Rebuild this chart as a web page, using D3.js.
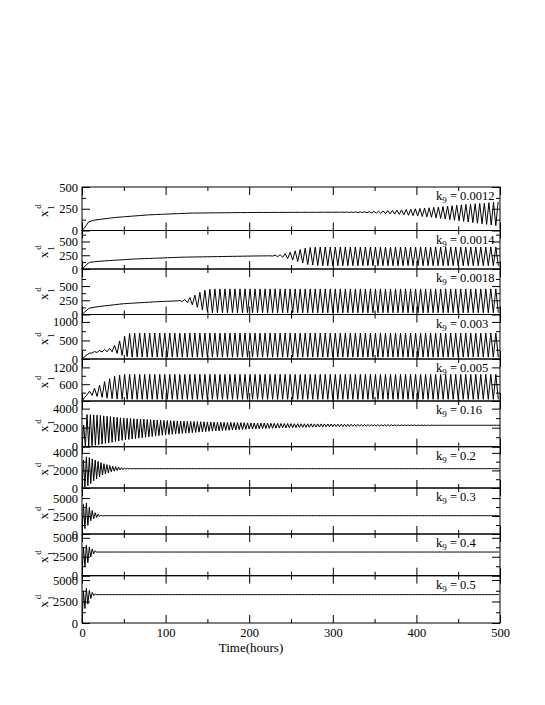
<!DOCTYPE html>
<html>
<head>
<meta charset="utf-8">
<script src="https://cdnjs.cloudflare.com/ajax/libs/d3/7.8.5/d3.min.js"></script>
<style>
body { margin: 0; background: #fff; }
svg text { font-family: "Liberation Serif", "Times New Roman", serif; }
</style>
</head>
<body>
<div class="d3chart"></div>
<script>
var width = 545,
    height = 705;

// k9 value of every panel, top to bottom
var kLabels = ["0.0012", "0.0014", "0.0018", "0.003", "0.005", "0.16", "0.2", "0.3", "0.4", "0.5"];

// y axis of every panel
var yMaxes = [500, 700, 800, 1200, 1500, 4800, 4700, 6400, 5500, 5500];
var yMajor = [
    [0, 250, 500], [0, 250, 500], [0, 250, 500], [0, 500, 1000], [0, 600, 1200],
    [0, 2000, 4000], [0, 2000, 4000], [0, 2500, 5000], [0, 2500, 5000], [0, 2500, 5000]
];
var yMinor = [
    [125, 375], [125, 375, 625], [125, 375, 625], [250, 750], [300, 900],
    [1000, 3000], [1000, 3000], [1250, 3750], [1250, 3750], [1250, 3750]
];

var xMajor = [0, 100, 200, 300, 400, 500];
var xMinor = [50, 150, 250, 350, 450];

// oscillation period (hours)
var periods = [5.5, 6, 6, 6, 6, 4, 3.5, 3.5, 3.5, 3.5];

// x1^d envelope: [time, low, high]
var env0012 = [[0,0,0],[3,30,30],[8,100,100],[15,120,120],[40,150,150],[80,180,180],[130,200,200],[200,207,207],[300,210,210],[340,205,215],[380,185,235],[420,150,265],[460,100,300],[500,50,330]];
var env0014 = [[0,0,0],[3,40,40],[8,120,120],[20,140,140],[60,180,180],[120,215,215],[200,235,235],[225,240,240],[240,215,265],[255,150,330],[270,80,390],[285,60,400],[500,60,400]];
var env0018 = [[0,0,0],[3,40,40],[8,110,110],[20,140,140],[50,190,190],[90,225,225],[115,240,240],[125,215,270],[135,150,340],[145,70,420],[155,30,450],[500,30,450]];
var env003 = [[0,0,0],[3,60,60],[8,150,150],[15,170,200],[25,190,250],[35,200,300],[42,150,420],[50,80,600],[58,50,700],[500,50,700]];
var env005 = [[0,0,0],[3,120,120],[6,220,300],[12,200,400],[20,150,550],[30,100,750],[40,70,900],[50,60,950],[500,60,950]];
var env016 = [[0,0,0],[3,0,3400],[20,200,3300],[50,700,3000],[100,1250,2750],[150,1600,2600],[200,1850,2500],[250,2000,2420],[300,2100,2380],[350,2170,2320],[400,2220,2280],[450,2250,2250],[500,2250,2250]];
var env02 = [[0,0,0],[2,0,3600],[8,300,3500],[15,900,3200],[25,1500,2800],[35,1850,2500],[45,2050,2350],[55,2150,2250],[65,2200,2200],[500,2200,2200]];
var env03 = [[0,0,0],[2,600,4700],[6,1000,4200],[10,1800,3500],[15,2200,3000],[20,2400,2700],[26,2550,2550],[500,2550,2550]];
var env04 = [[0,0,0],[2,1000,4300],[6,1500,4000],[10,2400,3700],[14,2900,3400],[18,3100,3150],[22,3120,3120],[500,3120,3120]];
var env05 = [[0,0,0],[2,1500,4200],[6,2000,4000],[10,2800,3700],[14,3200,3450],[18,3300,3300],[500,3300,3300]];

var envelopes = [env0012, env0014, env0018, env003, env005, env016, env02, env03, env04, env05];

// layout
var left = 82, right = 500;
var edges = [187, 230.5, 269, 314.5, 359, 401, 446.7, 488, 534, 575.7, 623];
var serif = "Liberation Serif, Times New Roman, serif";

var svg = d3.select(".d3chart").append("svg")
    .attr("width", width)
    .attr("height", height);

svg.append("rect").attr("width", width).attr("height", height).attr("fill", "#fff");

var x = d3.scaleLinear().domain([0, 500]).range([left, right]);

// turn an envelope into the up/down trace, one turn every half period
function trace(env, period) {
    var ts = env.map(function(d) { return d[0]; });
    var lo = d3.scaleLinear().domain(ts).range(env.map(function(d) { return d[1]; })).clamp(true);
    var hi = d3.scaleLinear().domain(ts).range(env.map(function(d) { return d[2]; })).clamp(true);
    var pts = [];
    var step = period / 2;
    for (var i = 0; i * step <= 500; i++) {
        var t = i * step;
        pts.push([t, i % 2 === 1 ? hi(t) : lo(t)]);
    }
    return pts;
}

function styleAxis(g) {
    g.select(".domain").remove();
    g.attr("font-family", serif).attr("font-size", 12.5);
    g.selectAll("text").attr("fill", "#000");
}

kLabels.forEach(function(k, i) {
    var top = edges[i], bottom = edges[i + 1];
    var last = i === kLabels.length - 1;
    var y = d3.scaleLinear().domain([0, yMaxes[i]]).range([bottom, top]);
    var g = svg.append("g").attr("class", "panel");

    g.append("clipPath").attr("id", "clip" + i)
        .append("rect")
        .attr("x", left).attr("y", top)
        .attr("width", right - left).attr("height", bottom - top);

    var line = d3.line()
        .x(function(d) { return x(d[0]); })
        .y(function(d) { return y(d[1]); });

    g.append("path")
        .datum(trace(envelopes[i], periods[i]))
        .attr("clip-path", "url(#clip" + i + ")")
        .attr("fill", "none")
        .attr("stroke", "#000")
        .attr("stroke-width", 1)
        .attr("d", line);

    // y axes, ticks inside on both sides
    g.append("g").attr("transform", "translate(" + left + ",0)")
        .call(d3.axisLeft(y).tickValues(yMajor[i]).tickSizeInner(-8).tickSizeOuter(0).tickPadding(4).tickFormat(d3.format("d")))
        .call(styleAxis);
    g.append("g").attr("transform", "translate(" + left + ",0)")
        .call(d3.axisLeft(y).tickValues(yMinor[i]).tickSize(-4).tickFormat(""))
        .call(styleAxis);
    g.append("g").attr("transform", "translate(" + right + ",0)")
        .call(d3.axisRight(y).tickValues(yMajor[i]).tickSize(-8).tickFormat(""))
        .call(styleAxis);
    g.append("g").attr("transform", "translate(" + right + ",0)")
        .call(d3.axisRight(y).tickValues(yMinor[i]).tickSize(-4).tickFormat(""))
        .call(styleAxis);

    // x axes top and bottom
    g.append("g").attr("transform", "translate(0," + bottom + ")")
        .call(d3.axisBottom(x).tickValues(xMajor).tickSizeInner(-8).tickSizeOuter(0).tickPadding(5)
            .tickFormat(last ? d3.format("d") : ""))
        .call(styleAxis);
    g.append("g").attr("transform", "translate(0," + bottom + ")")
        .call(d3.axisBottom(x).tickValues(xMinor).tickSize(-4).tickFormat(""))
        .call(styleAxis);
    g.append("g").attr("transform", "translate(0," + top + ")")
        .call(d3.axisTop(x).tickValues(xMajor).tickSize(-8).tickFormat(""))
        .call(styleAxis);
    g.append("g").attr("transform", "translate(0," + top + ")")
        .call(d3.axisTop(x).tickValues(xMinor).tickSize(-4).tickFormat(""))
        .call(styleAxis);

    g.append("rect")
        .attr("x", left).attr("y", top)
        .attr("width", right - left).attr("height", bottom - top)
        .attr("fill", "none").attr("stroke", "#000").attr("stroke-width", 1);

    // legend k9 = ...
    var leg = g.append("text")
        .attr("x", 436).attr("y", top + 13)
        .attr("font-size", 12.5);
    leg.append("tspan").text("k");
    leg.append("tspan").attr("font-size", 9).attr("dy", 3).text("9");
    leg.append("tspan").attr("dy", -3).text(" = " + k);

    // y label x1^d
    var cy = (top + bottom) / 2 + 5;
    var yl = g.append("g").attr("transform", "translate(48," + cy + ") rotate(-90)");
    yl.append("text").attr("text-anchor", "middle").attr("font-size", 13).text("x");
    yl.append("text").attr("x", 4).attr("y", 6).attr("font-size", 9).text("1");
    yl.append("text").attr("x", 5).attr("y", -7).attr("font-size", 9).text("d");
});

svg.append("text")
    .attr("x", 251)
    .attr("y", 652)
    .attr("text-anchor", "middle")
    .attr("font-size", 13)
    .text("Time(hours)");
</script>
</body>
</html>
